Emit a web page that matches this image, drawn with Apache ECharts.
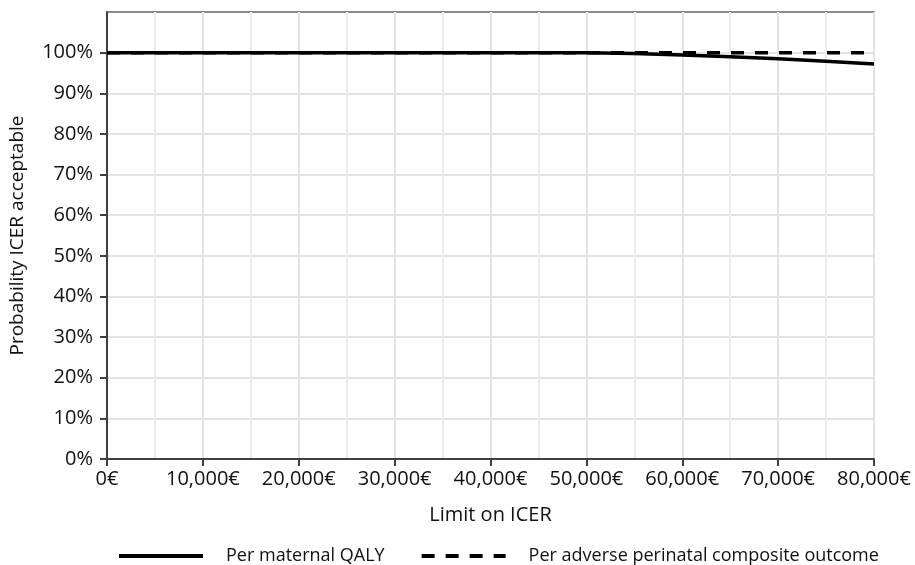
<!DOCTYPE html>
<html><head><meta charset="utf-8">
<script src="https://cdn.jsdelivr.net/npm/echarts@6/dist/echarts.min.js"></script>
<style>html,body{margin:0;padding:0;background:#fff}#c{width:915px;height:565px}</style>
</head><body><div id="c"></div>
<script>
const xValues = [0,5000,10000,15000,20000,25000,30000,35000,40000,45000,50000,55000,60000,65000,70000,75000,80000];
const perMaternalQALY = [100,100,100,100,100,100,100,100,100,100,100,99.8,99.4,99.0,98.5,97.9,97.2];
const perAdverseOutcome = [100,100,100,100,100,100,100,100,100,100,100,100,100,100,100,100,100];
const seriesNames = ['Per maternal QALY','Per adverse perinatal composite outcome'];
const yTicks = [0,10,20,30,40,50,60,70,80,90,100];

const font = '"Open Sans", "Noto Sans", sans-serif';
const chart = echarts.init(document.getElementById('c'));
function fmtEuro(v){ return v.toLocaleString('en-US') + '€'; }
chart.setOption({
  animation:false,
  grid:{left:107,right:41,top:12,bottom:106,show:true,borderColor:'#666',borderWidth:1.5},
  legend:{top:542,left:112,itemWidth:84,itemHeight:20,itemGap:35,
    itemStyle:{opacity:0},
    lineStyle:{width:4},
    textStyle:{fontFamily:font,fontSize:18,color:'#111',padding:[0,0,0,18]},
    data:seriesNames},
  xAxis:{type:'value',min:0,max:80000,interval:10000,
    name:'Limit on ICER',nameLocation:'middle',nameGap:46,
    nameTextStyle:{fontFamily:font,fontSize:20,color:'#111'},
    axisLine:{show:true,lineStyle:{color:'#404040',width:2}},
    axisTick:{show:true,inside:false,length:7,lineStyle:{color:'#404040',width:2}},
    axisLabel:{fontFamily:font,fontSize:20,color:'#111',margin:10,formatter:fmtEuro},
    splitLine:{show:true,lineStyle:{color:'#e3e3e3',width:2}},
    minorTick:{show:false,splitNumber:2},
    minorSplitLine:{show:true,lineStyle:{color:'#ececec',width:2}}
  },
  yAxis:{type:'value',min:0,max:110,interval:10,
    name:'Probability ICER acceptable',nameLocation:'middle',nameGap:80,nameRotate:90,
    nameTextStyle:{fontFamily:font,fontSize:19,color:'#111'},
    axisLine:{show:true,lineStyle:{color:'#404040',width:2}},
    axisTick:{show:true,length:7,customValues:yTicks,lineStyle:{color:'#404040',width:2}},
    axisLabel:{fontFamily:font,fontSize:20,color:'#111',margin:14,customValues:yTicks,
      formatter:v=>v+'%'},
    splitLine:{show:true,lineStyle:{color:'#e3e3e3',width:2}}
  },
  series:[
    {name:seriesNames[1],type:'line',symbol:'none',z:2,
     data:xValues.map((x,i)=>[x,perAdverseOutcome[i]]),
     lineStyle:{color:'#000',width:3.5,type:[13,11]},itemStyle:{color:'#000'}},
    {name:seriesNames[0],type:'line',symbol:'none',z:3,
     data:xValues.map((x,i)=>[x,perMaternalQALY[i]]),
     lineStyle:{color:'#000',width:3.5,type:'solid'},itemStyle:{color:'#000'}}
  ]
});
</script></body></html>
